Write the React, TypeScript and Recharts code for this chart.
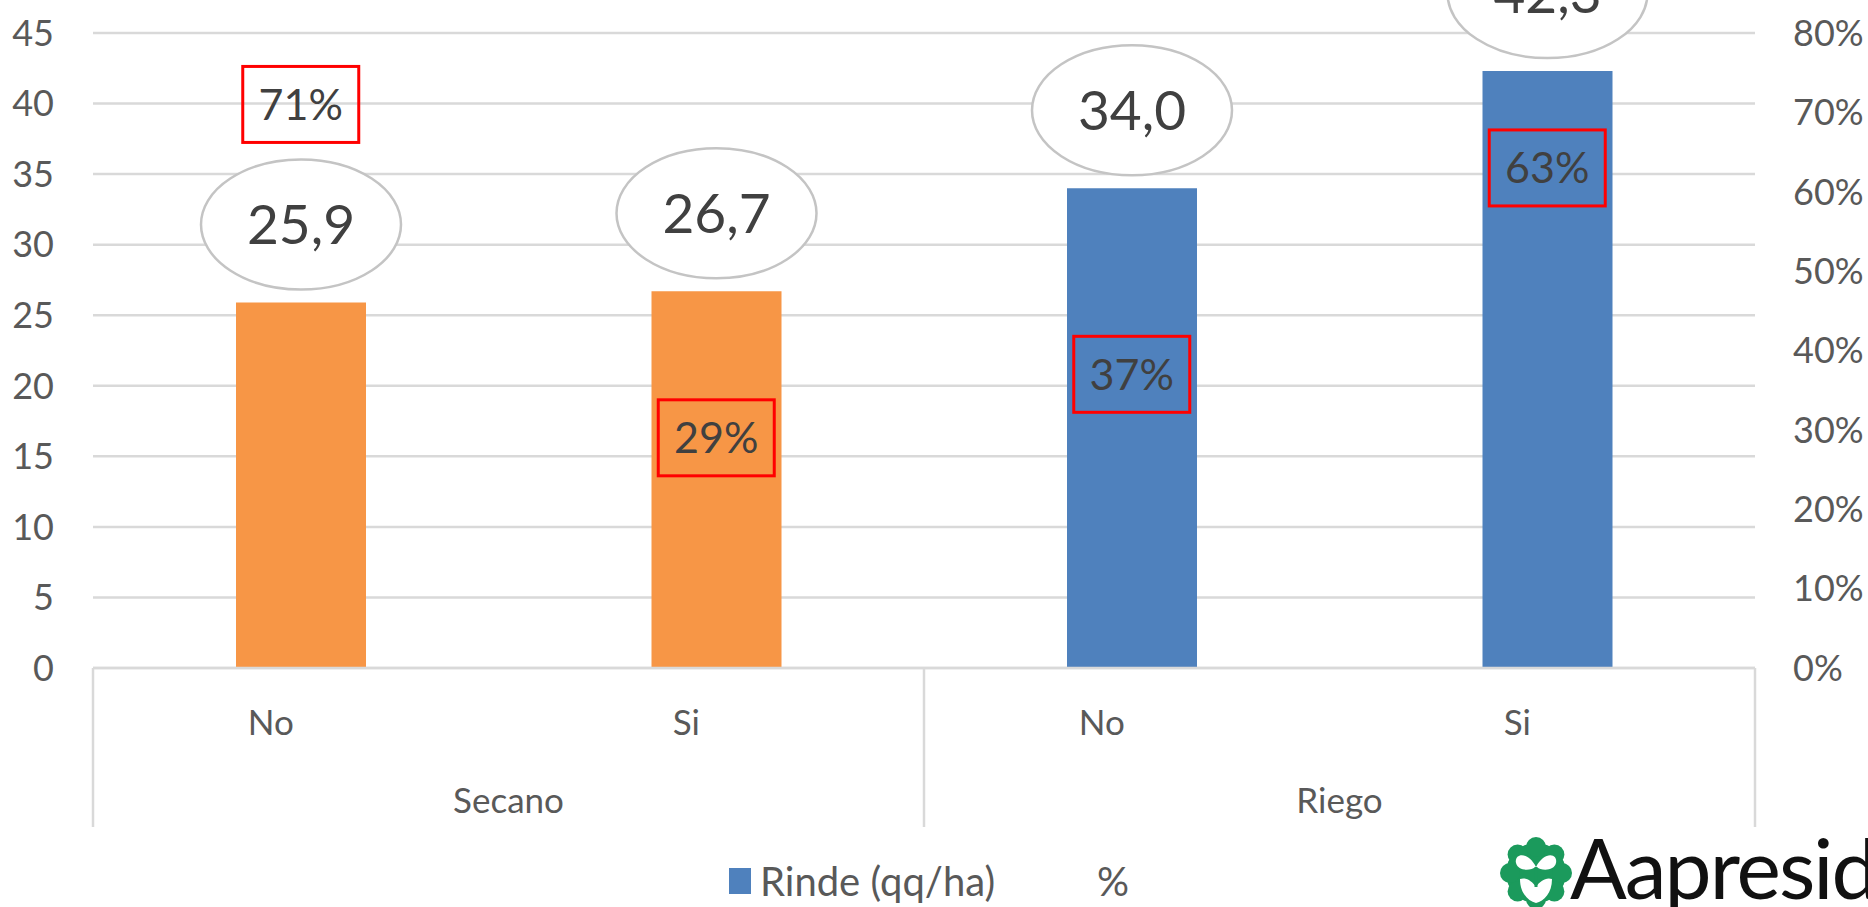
import React from "react";
import {
  ComposedChart,
  Bar,
  Line,
  XAxis,
  YAxis,
  CartesianGrid,
  Legend,
  LabelList,
  Cell,
} from "recharts";

const categories = ["No", "Si", "No", "Si"];
const groups = ["Secano", "Secano", "Riego", "Riego"];
const rinde = [25.9, 26.7, 34.0, 42.3];
const porcentaje = [0.71, 0.29, 0.37, 0.63];
const barColors = ["#F79646", "#F79646", "#4F81BD", "#4F81BD"];
const leftTicks = [0, 5, 10, 15, 20, 25, 30, 35, 40, 45];
const rightTicks = [0, 0.1, 0.2, 0.3, 0.4, 0.5, 0.6, 0.7, 0.8];

const FONT = "Lato, 'Open Sans', sans-serif";
const GRID = "#D9D9D9";

const data = categories.map((c, i) => ({
  key: `${groups[i]}-${c}`,
  rinde: rinde[i],
  pct: porcentaje[i],
}));

function CategoryTick(props: any) {
  const { x, y, payload } = props;
  const i = payload?.index ?? props.index;
  const half = payload?.offset ?? 207.75;
  const first = i === 0 || groups[i] !== groups[i - 1];
  const last = i === categories.length - 1;
  let n = 0;
  if (first) {
    while (i + n < groups.length && groups[i + n] === groups[i]) n++;
  }
  return (
    <g>
      {/* inner labels sit a little left of the bar centre, as in the original */}
      <text
        x={x - 30}
        y={y + 54}
        dy="0.36em"
        textAnchor="middle"
        fontSize={35}
        fontFamily={FONT}
        fill="#595959"
      >
        {categories[i]}
      </text>
      {first && (
        <line x1={x - half} x2={x - half} y1={y} y2={y + 159} stroke={GRID} strokeWidth={2.5} />
      )}
      {last && (
        <line x1={x + half} x2={x + half} y1={y} y2={y + 159} stroke={GRID} strokeWidth={2.5} />
      )}
      {first && (
        <text
          x={x - half + n * half}
          y={y + 132}
          dy="0.36em"
          textAnchor="middle"
          fontSize={35}
          fontFamily={FONT}
          fill="#595959"
        >
          {groups[i]}
        </text>
      )}
    </g>
  );
}

function EllipseLabel(props: any) {
  const { x, y, width, value } = props;
  const cx = Number(x) + Number(width) / 2;
  const cy = Number(y) - 78;
  return (
    <g>
      <ellipse cx={cx} cy={cy} rx={100} ry={65} fill="#fff" stroke="#C4C4C4" strokeWidth={2.5} />
      <text
        x={cx}
        y={cy}
        dy="0.36em"
        textAnchor="middle"
        fontSize={55}
        fontFamily={FONT}
        fill="#404040"
      >
        {Number(value).toFixed(1).replace(".", ",")}
      </text>
    </g>
  );
}

function BoxLabel(props: any) {
  const { x, y, value } = props;
  const cx = Number(x);
  const cy = Number(y);
  return (
    <g>
      <rect x={cx - 58} y={cy - 38} width={116} height={76} fill="none" stroke="#FF0000" strokeWidth={3} />
      <text
        x={cx}
        y={cy}
        dy="0.36em"
        textAnchor="middle"
        fontSize={43}
        fontFamily={FONT}
        fill="#404040"
      >
        {`${Math.round(Number(value) * 100)}%`}
      </text>
    </g>
  );
}

// the % series has no visible mark, so it gets no legend icon
const noIcon = (it: any) => it.type === "none" || it.type === "line" || it.value === "%";

function LegendContent(props: any) {
  const items = [...(props.payload || [])].sort(
    (a: any, b: any) => (noIcon(a) ? 1 : 0) - (noIcon(b) ? 1 : 0)
  );
  return (
    <div
      style={{
        display: "flex",
        alignItems: "center",
        fontFamily: FONT,
        fontSize: 40,
        lineHeight: 1.2,
        color: "#595959",
        whiteSpace: "nowrap",
      }}
    >
      {items.map((it: any, k: number) => (
        <span key={k} style={{ display: "flex", alignItems: "center", marginRight: 102 }}>
          {!noIcon(it) && (
            <span
              style={{ display: "inline-block", width: 22, height: 26, background: it.color, marginRight: 9 }}
            />
          )}
          <span>{it.value}</span>
        </span>
      ))}
    </div>
  );
}

function Logo() {
  const petals = [0, 45, 90, 135, 180, 225, 270, 315];
  return (
    <div style={{ position: "absolute", left: 1500, top: 825, display: "flex", alignItems: "flex-start" }}>
      <svg width={72} height={82} viewBox="0 0 72 82" style={{ marginTop: 12 }}>
        <g fill="#1B9A5C">
          <circle cx={36} cy={36} r={30} />
          {petals.map((a) => (
            <circle
              key={a}
              cx={36 + 26 * Math.cos((a * Math.PI) / 180)}
              cy={36 + 26 * Math.sin((a * Math.PI) / 180)}
              r={10}
            />
          ))}
        </g>
        <g fill="#fff">
          <path d="M36 30 C28 14, 14 16, 16 26 C18 34, 30 34, 36 30 Z" />
          <path d="M36 30 C44 14, 58 16, 56 26 C54 34, 42 34, 36 30 Z" />
          <path d="M20 42 C26 40, 32 44, 36 50 C40 44, 46 40, 52 42 C52 56, 44 64, 36 66 C28 64, 20 56, 20 42 Z" />
        </g>
        <path d="M36 30 L36 50" stroke="#1B9A5C" strokeWidth={3} />
      </svg>
      <span
        style={{
          fontFamily: FONT,
          fontSize: 84,
          lineHeight: 1,
          color: "#111",
          letterSpacing: -2,
          marginLeft: -2,
        }}
      >
        Aapresid
      </span>
    </div>
  );
}

export default function App() {
  return (
    <div
      style={{
        position: "absolute",
        left: 0,
        top: 0,
        width: 1868,
        height: 907,
        overflow: "hidden",
        background: "#fff",
      }}
    >
      <ComposedChart
        width={1868}
        height={907}
        data={data}
        margin={{ top: 33, right: 0, bottom: 79, left: 0 }}
      >
        <CartesianGrid yAxisId="left" vertical={false} stroke={GRID} strokeWidth={2.5} />
        <XAxis
          dataKey="key"
          interval={0}
          height={160}
          tickSize={0}
          tickMargin={0}
          tickLine={false}
          axisLine={{ stroke: GRID, strokeWidth: 2.5 }}
          tick={<CategoryTick />}
        />
        <YAxis
          yAxisId="left"
          domain={[0, 45]}
          ticks={leftTicks}
          width={93}
          axisLine={false}
          tickLine={false}
          tickSize={0}
          tickMargin={39}
          tick={{ fill: "#595959", fontSize: 36, fontFamily: FONT }}
        />
        <YAxis
          yAxisId="right"
          orientation="right"
          domain={[0, 0.8]}
          ticks={rightTicks}
          width={113}
          axisLine={false}
          tickLine={false}
          tickSize={0}
          tickMargin={38}
          tickFormatter={(v: number) => `${Math.round(v * 100)}%`}
          tick={{ fill: "#595959", fontSize: 36, fontFamily: FONT, textAnchor: "start" }}
        />
        <Bar
          yAxisId="left"
          dataKey="rinde"
          name="Rinde (qq/ha)"
          fill="#4F81BD"
          barSize={130}
          isAnimationActive={false}
        >
          {data.map((_, i) => (
            <Cell key={i} fill={barColors[i]} />
          ))}
          <LabelList dataKey="rinde" content={<EllipseLabel />} />
        </Bar>
        <Line
          yAxisId="right"
          dataKey="pct"
          name="%"
          stroke="none"
          dot={false}
          activeDot={false}
          legendType="none"
          isAnimationActive={false}
        >
          <LabelList dataKey="pct" content={<BoxLabel />} />
        </Line>
        <Legend
          layout="horizontal"
          verticalAlign="middle"
          align="center"
          content={<LegendContent />}
          wrapperStyle={{ left: 729, top: 857, width: "auto", height: "auto" }}
        />
      </ComposedChart>
      <Logo />
    </div>
  );
}
